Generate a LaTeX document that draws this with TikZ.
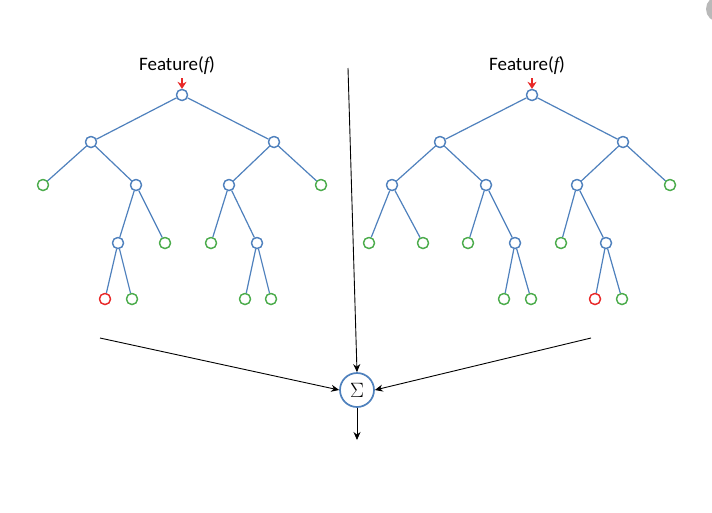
\documentclass[tikz,border=0pt]{standalone}
\usepackage{fontspec}
\setmainfont{Carlito}
\newfontfamily\serifit{Liberation Serif}
\usetikzlibrary{arrows.meta}
\definecolor{tblue}{RGB}{79,129,189}
\definecolor{tgreen}{RGB}{75,172,75}
\definecolor{tred}{RGB}{232,40,40}
\begin{document}
\begin{tikzpicture}[x=1pt,y=-1pt,
  inner/.style={circle,draw=tblue,line width=1.3pt,fill=white,minimum size=11pt,inner sep=0pt},
  leafg/.style={circle,draw=tgreen,line width=1.3pt,fill=white,minimum size=11pt,inner sep=0pt},
  leafr/.style={circle,draw=tred,line width=1.3pt,fill=white,minimum size=11pt,inner sep=0pt},
  edge/.style={draw=tblue,line width=1.2pt},
  flow/.style={draw=black,line width=0.9pt,-{Stealth[length=8pt,width=7pt]}},
  lab/.style={font=\fontsize{19}{22}\selectfont,inner sep=0pt}]
\useasboundingbox (0,0) rectangle (712,512);
\fill[white] (0,0) rectangle (712,512);
\begin{scope}
\clip (0,0) rectangle (712,512);
\fill[gray!55] (719,9) circle (13);
\end{scope}
% ---------- left tree ----------
\node[inner] (a0) at (182,95) {};
\node[inner] (a1) at (91,142) {};
\node[inner] (a2) at (274,142) {};
\node[leafg] (a3) at (43,185) {};
\node[inner] (a4) at (136,185) {};
\node[inner] (a5) at (229,185) {};
\node[leafg] (a6) at (321,185) {};
\node[inner] (a7) at (118,243) {};
\node[leafg] (a8) at (165,243) {};
\node[leafg] (a9) at (211,243) {};
\node[inner] (a10) at (257,243) {};
\node[leafr] (a11) at (105,299) {};
\node[leafg] (a12) at (132,299) {};
\node[leafg] (a13) at (245,299) {};
\node[leafg] (a14) at (271,299) {};
\path[edge] (a0)--(a1) (a0)--(a2) (a1)--(a3) (a1)--(a4) (a2)--(a5) (a2)--(a6)
  (a4)--(a7) (a4)--(a8) (a5)--(a9) (a5)--(a10) (a7)--(a11) (a7)--(a12)
  (a10)--(a13) (a10)--(a14);
% ---------- right tree ----------
\node[inner] (b0) at (532,95) {};
\node[inner] (b1) at (440,142) {};
\node[inner] (b2) at (623,142) {};
\node[inner] (b3) at (392,185) {};
\node[inner] (b4) at (486,185) {};
\node[inner] (b5) at (577,185) {};
\node[leafg] (b6) at (670,185) {};
\node[leafg] (b7) at (369,243) {};
\node[leafg] (b8) at (423,243) {};
\node[leafg] (b9) at (468,243) {};
\node[inner] (b10) at (515,243) {};
\node[leafg] (b11) at (561,243) {};
\node[inner] (b12) at (606,243) {};
\node[leafg] (b13) at (504,299) {};
\node[leafg] (b14) at (531,299) {};
\node[leafr] (b15) at (595,299) {};
\node[leafg] (b16) at (622,299) {};
\path[edge] (b0)--(b1) (b1)--(b3) (b1)--(b4) (b2)--(b5) (b2)--(b6)
  (b3)--(b7) (b3)--(b8) (b4)--(b9) (b4)--(b10) (b5)--(b11) (b5)--(b12)
  (b10)--(b13) (b10)--(b14) (b12)--(b15) (b12)--(b16);
\path[edge] (b0)--(b2);
\draw[white,line width=2pt] (595.5,124.8)--(599.5,126.6);
% redraw nodes on top of edges
\foreach \n/\s in {a0/inner,a1/inner,a2/inner,a3/leafg,a4/inner,a5/inner,a6/leafg,a7/inner,a8/leafg,a9/leafg,a10/inner,a11/leafr,a12/leafg,a13/leafg,a14/leafg,
  b0/inner,b1/inner,b2/inner,b3/inner,b4/inner,b5/inner,b6/leafg,b7/leafg,b8/leafg,b9/leafg,b10/inner,b11/leafg,b12/inner,b13/leafg,b14/leafg,b15/leafr,b16/leafg}
  {\node[\s] at (\n) {};}
% ---------- labels ----------
\node[lab] (fa) at (177,66) {Feature({\serifit\itshape f})};
\node[lab] (fb) at (527,66) {Feature({\serifit\itshape f})};
\draw[tred,line width=1.7pt,-{Stealth[length=7pt,width=9pt]}] (fa.south -| a0) ++(0,3) -- (a0.north);
\draw[tred,line width=1.7pt,-{Stealth[length=7pt,width=9pt]}] (fb.south -| b0) ++(0,3) -- (b0.north);
% ---------- sum ----------
\node[circle,draw=tblue,line width=1.7pt,minimum size=34pt,inner sep=0pt,font=\fontsize{21}{24}\selectfont] (s) at (357,390) {$\Sigma$};
\coordinate (tin) at (348,68);
\coordinate (lin) at (100,338);
\coordinate (rin) at (591,338);
\coordinate (out) at (357,440);
\draw[flow] (tin) -- (s.north);
\draw[flow] (lin) -- (s.west);
\draw[flow] (rin) -- (s.east);
\draw[flow] (s.south) -- (out);
\end{tikzpicture}
\end{document}
